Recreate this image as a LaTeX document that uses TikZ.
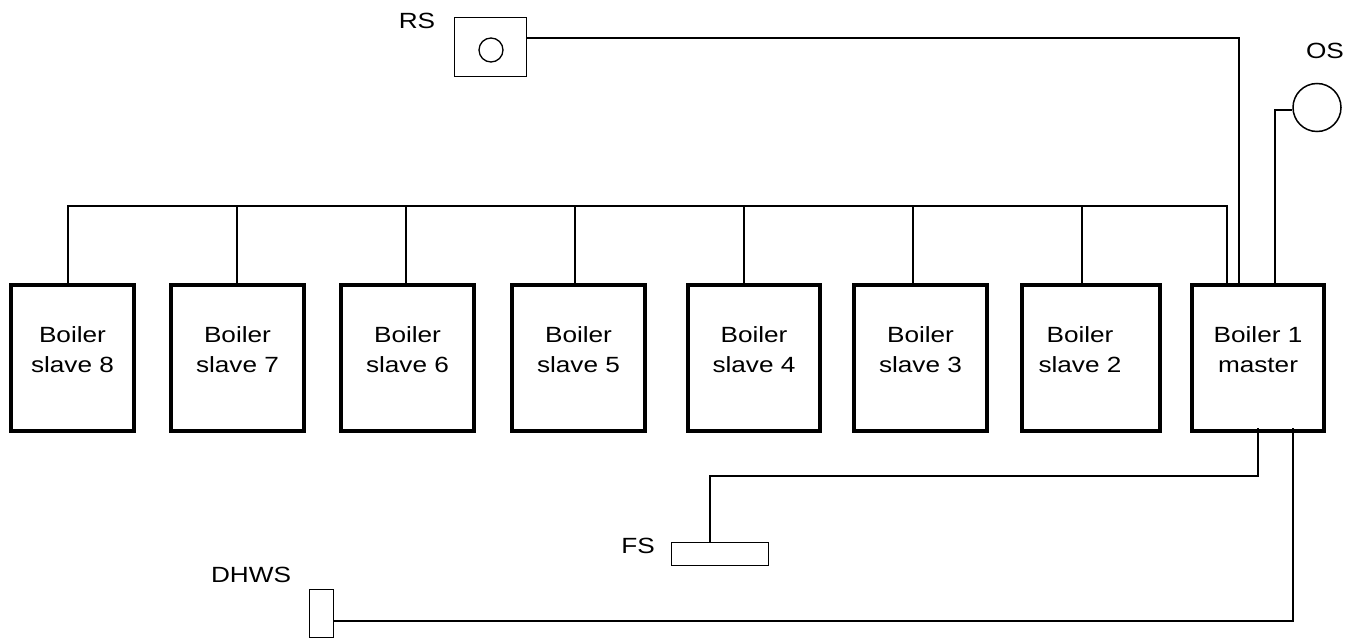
\documentclass[tikz,border=0pt]{standalone}
\usepackage{fontspec}
\setmainfont[FakeStretch=1.19]{Liberation Sans}
\usetikzlibrary{calc}
\tikzset{
 boiler/.style={draw, line width=4pt, minimum height=146pt, inner sep=0pt},
 txt/.style={align=center, font=\fontsize{22}{30}\selectfont, inner sep=0pt},
 lab/.style={font=\fontsize{22}{26}\selectfont, inner sep=0pt, anchor=base},
 wire/.style={line width=1.3pt},
 sensor/.style={draw, line width=1.5pt, inner sep=0pt},
}
\begin{document}
\begin{tikzpicture}[x=1pt,y=-1pt]
\useasboundingbox (0,0) rectangle (1356,639);
% boilers
\node[boiler, minimum width=123pt] (s8) at (72.5,358) {};
\node[boiler, minimum width=133pt] (s7) at (237.5,358) {};
\node[boiler, minimum width=133pt] (s6) at (407.5,358) {};
\node[boiler, minimum width=133pt] (s5) at (578.5,358) {};
\node[boiler, minimum width=132pt] (s4) at (754,358) {};
\node[boiler, minimum width=133pt] (s3) at (920.5,358) {};
\node[boiler, minimum width=138pt] (s2) at (1091,358) {};
\node[boiler, minimum width=132pt] (m) at (1258,358) {};
\node[txt] (t8) at (72.5,349.5) {Boiler\\slave 8};
\node[txt] (t7) at (237.5,349.5) {Boiler\\slave 7};
\node[txt] (t6) at (407.5,349.5) {Boiler\\slave 6};
\node[txt] (t5) at (578.5,349.5) {Boiler\\slave 5};
\node[txt] (t4) at (754,349.5) {Boiler\\slave 4};
\node[txt] (t3) at (920.5,349.5) {Boiler\\slave 3};
\node[txt] (t2) at (1080,349.5) {Boiler\\slave 2};
\node[txt] (tm) at (1258,349.5) {Boiler 1\\master};
% bus
\coordinate (d8) at (68,206);
\coordinate (d7) at (237,206);
\coordinate (d6) at (406,206);
\coordinate (d5) at (575,206);
\coordinate (d4) at (744,206);
\coordinate (d3) at (913,206);
\coordinate (d2) at (1082,206);
\coordinate (dm) at (1227,206);
\draw[wire] (s8.north -| d8) -- (d8) -- (dm) -- (m.north -| dm);
\draw[wire] (s7.north -| d7) -- (d7);
\draw[wire] (s6.north -| d6) -- (d6);
\draw[wire] (s5.north -| d5) -- (d5);
\draw[wire] (s4.north -| d4) -- (d4);
\draw[wire] (s3.north -| d3) -- (d3);
\draw[wire] (s2.north -| d2) -- (d2);
% RS
\node[sensor, minimum width=72pt, minimum height=59pt] (rs) at (490.5,47) {};
\node[sensor, circle, line width=1.3pt, minimum size=24pt] (rsc) at (491,50) {};
\node[lab] (rsl) at (417,29) {RS};
\coordinate (rj) at (1239,38);
\draw[wire] (rs.east |- rj) -- (rj) -- (m.north -| rj);
% OS
\node[sensor, circle, minimum size=48pt] (os) at (1317,107.5) {};
\node[lab] (osl) at (1325,59) {OS};
\coordinate (oj) at (1275,110);
\draw[wire] (os.west |- oj) -- (oj) -- (m.north -| oj);
% FS
\node[sensor, minimum width=97pt, minimum height=23pt] (fs) at (720,554) {};
\node[lab] (fsl) at (638,553) {FS};
\coordinate (mb) at ([yshift=5pt]m.south);
\coordinate (fk) at (710,476);
\draw[wire] (mb) |- (fk) -- (fs.north -| fk);
% DHWS
\node[sensor, minimum width=24pt, minimum height=48pt] (dh) at (321.5,613.5) {};
\node[lab] (dhl) at (251,582) {DHWS};
\coordinate (dk) at (1293,621);
\draw[wire] (mb -| dk) -- (dk) -- (dh.east |- dk);
\end{tikzpicture}
\end{document}
